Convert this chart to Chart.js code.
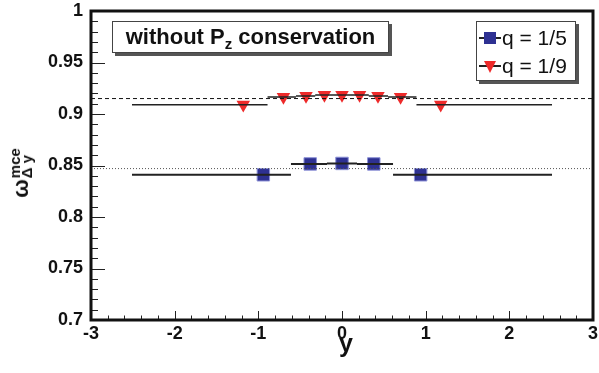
<!DOCTYPE html>
<html>
<head>
<meta charset="utf-8">
<script src="https://cdn.jsdelivr.net/npm/chart.js@4.4.1/dist/chart.umd.min.js"></script>
<style>
  body { margin: 0; background: #fff; }
  #wrap { position: relative; width: 599px; height: 373px; font-family: "Liberation Sans", Arial, sans-serif; }
  canvas { position: absolute; left: 0; top: 0; }
  .box { position: absolute; background: #fff; border: 1px solid #444; box-shadow: 3px 3px 0 #555; box-sizing: border-box; }
  #titlebox { left: 112px; top: 21px; width: 277px; height: 32px; font-weight: bold; font-size: 22px; color: #111;
    text-align: center; line-height: 30px; white-space: nowrap; }
  #titlebox sub { font-size: 15px; vertical-align: -5px; line-height: 0; }
  #legbox { left: 476px; top: 21px; width: 100px; height: 60px; font-size: 21px; color: #111; }
  .row { position: absolute; left: 0; height: 28px; width: 100px; }
  .row .ln { position: absolute; left: 2px; width: 22px; top: 13px; height: 1.5px; background: #222; }
  .row .sq { position: absolute; left: 7px; top: 8px; width: 12px; height: 12px; background: #2e3192; }
  .row .tri { position: absolute; left: 7px; top: 9px; width: 0; height: 0; border-left: 6.5px solid transparent;
    border-right: 6.5px solid transparent; border-top: 12px solid #ee2a2a; }
  .row .tx { position: absolute; left: 25px; top: 0; line-height: 28px; white-space: nowrap; }
  #xtitle { position: absolute; left: 346px; top: 333px; transform: translateX(-50%); font-weight: bold; font-size: 25px; line-height: 20px; color: #111; }
  #ytitle { position: absolute; left: 21px; top: 173px; transform: translate(-50%, -50%) rotate(-90deg);
    white-space: nowrap; font-weight: bold; color: #111; display: flex; align-items: center; }
  #ytitle .om { font-size: 22px; line-height: 20px; }
  #ytitle .ss { display: inline-flex; flex-direction: column; font-size: 15px; line-height: 12px; margin-left: 1px; }
</style>
</head>
<body>
<div id="wrap">
  <canvas id="grafico" width="599" height="373"></canvas>
  <div id="titlebox" class="box">without P<sub>z</sub> conservation</div>
  <div id="legbox" class="box">
    <div class="row" style="top:2px"><div class="ln"></div><div class="sq"></div><div class="tx">q = 1/5</div></div>
    <div class="row" style="top:30px"><div class="ln"></div><div class="tri"></div><div class="tx">q = 1/9</div></div>
  </div>
  <div id="xtitle">y</div>
  <div id="ytitle"><span class="om">ω</span><span class="ss"><span>mce</span><span>Δ y</span></span></div>
</div>
<script>
// q = 1/5 (blue squares)
const azulX = [-0.94, -0.38, 0, 0.38, 0.94];
const azulY = [0.841, 0.8515, 0.852, 0.8515, 0.841];
const azulDesde = [-2.51, -0.61, -0.18, 0.18, 0.61];
const azulHasta = [-0.61, -0.18, 0.18, 0.61, 2.51];

// q = 1/9 (red triangles)
const rojoX = [-1.18, -0.70, -0.43, -0.21, 0, 0.21, 0.43, 0.70, 1.18];
const rojoY = [0.909, 0.9165, 0.9175, 0.9185, 0.9185, 0.9185, 0.9175, 0.9165, 0.909];
const rojoDesde = [-2.51, -0.89, -0.55, -0.32, -0.10, 0.10, 0.32, 0.55, 0.89];
const rojoHasta = [-0.89, -0.55, -0.32, -0.10, 0.10, 0.32, 0.55, 0.89, 2.51];

// horizontal reference levels
const nivelRojo = 0.915;
const nivelAzul = 0.847;

const xTicks = [-3, -2, -1, 0, 1, 2, 3];
const yTicks = [0.7, 0.75, 0.8, 0.85, 0.9, 0.95, 1];

const puntos = (xs, ys) => xs.map((x, i) => ({ x: x, y: ys[i] }));
const barras = (desde, hasta, ys) => {
    const out = [];
    desde.forEach((d, i) => {
        out.push({ x: d, y: ys[i] }, { x: hasta[i], y: ys[i] }, { x: hasta[i], y: null });
    });
    return out;
};

// frame and inward ticks, ROOT style
const marco = {
    id: 'marco',
    afterDraw(chart) {
        const { ctx, chartArea: a, scales: { x, y } } = chart;
        ctx.save();
        ctx.strokeStyle = '#222';
        ctx.lineWidth = 1;
        ctx.beginPath();
        for (let i = 0; i <= 30; i++) {
            const py = Math.round(y.getPixelForValue(0.7 + i * 0.01)) + 0.5;
            const len = i % 5 === 0 ? 14 : 7;
            ctx.moveTo(a.left, py);
            ctx.lineTo(a.left + len, py);
        }
        for (let i = 0; i <= 30; i++) {
            const px = Math.round(x.getPixelForValue(-3 + i * 0.2)) + 0.5;
            const len = i % 5 === 0 ? 9 : 4.5;
            ctx.moveTo(px, a.bottom);
            ctx.lineTo(px, a.bottom - len);
        }
        ctx.stroke();
        ctx.lineWidth = 3;
        ctx.strokeStyle = '#111';
        ctx.strokeRect(a.left, a.top, a.right - a.left, a.bottom - a.top);
        ctx.restore();
    }
};

const ctx = document.querySelector('#grafico').getContext('2d');
const miGrafico = new Chart(ctx, {
    type: 'scatter',
    data: {
        datasets: [
            {
                type: 'line', data: [{ x: -3, y: nivelRojo }, { x: 3, y: nivelRojo }],
                borderColor: '#111', borderWidth: 1, borderDash: [4, 3], pointRadius: 0
            },
            {
                type: 'line', data: [{ x: -3, y: nivelAzul }, { x: 3, y: nivelAzul }],
                borderColor: '#555', borderWidth: 1, borderDash: [1, 2], pointRadius: 0
            },
            {
                type: 'line', data: barras(azulDesde, azulHasta, azulY),
                borderColor: '#222', borderWidth: 2, pointRadius: 0, spanGaps: false
            },
            {
                type: 'line', data: barras(rojoDesde, rojoHasta, rojoY),
                borderColor: '#222', borderWidth: 1.5, pointRadius: 0, spanGaps: false
            },
            {
                label: 'q = 1/5', data: puntos(azulX, azulY),
                pointStyle: 'rect', pointRadius: 8.8, backgroundColor: '#2e3192',
                borderColor: 'rgba(140,145,215,1)', borderWidth: 1
            },
            {
                label: 'q = 1/9', data: puntos(rojoX, rojoY),
                pointStyle: 'triangle', rotation: 180, pointRadius: 7.8,
                backgroundColor: '#ee2a2a', borderWidth: 0
            }
        ]
    },
    options: {
        responsive: false,
        animation: false,
        layout: { autoPadding: false, padding: { left: 0, right: 6, top: 11, bottom: 0 } },
        plugins: { legend: { display: false }, tooltip: { enabled: false } },
        scales: {
            x: {
                type: 'linear', min: -3, max: 3,
                afterFit: (s) => { s.height = 53; s.paddingLeft = 0; s.paddingRight = 0; },
                afterBuildTicks: (s) => { s.ticks = xTicks.map(v => ({ value: v })); },
                grid: { display: false, drawTicks: false },
                border: { display: false },
                ticks: { padding: 3, color: '#111', font: { family: 'Liberation Sans', size: 18, weight: 'bold' } }
            },
            y: {
                min: 0.7, max: 1,
                afterFit: (s) => { s.width = 91; s.paddingTop = 0; s.paddingBottom = 0; },
                afterBuildTicks: (s) => { s.ticks = yTicks.map(v => ({ value: v })); },
                grid: { display: false, drawTicks: false },
                border: { display: false },
                ticks: {
                    padding: 8, color: '#111', font: { family: 'Liberation Sans', size: 18, weight: 'bold' },
                    callback: (v) => String(parseFloat(v.toFixed(2)))
                }
            }
        }
    },
    plugins: [marco]
});
</script>
</body>
</html>
